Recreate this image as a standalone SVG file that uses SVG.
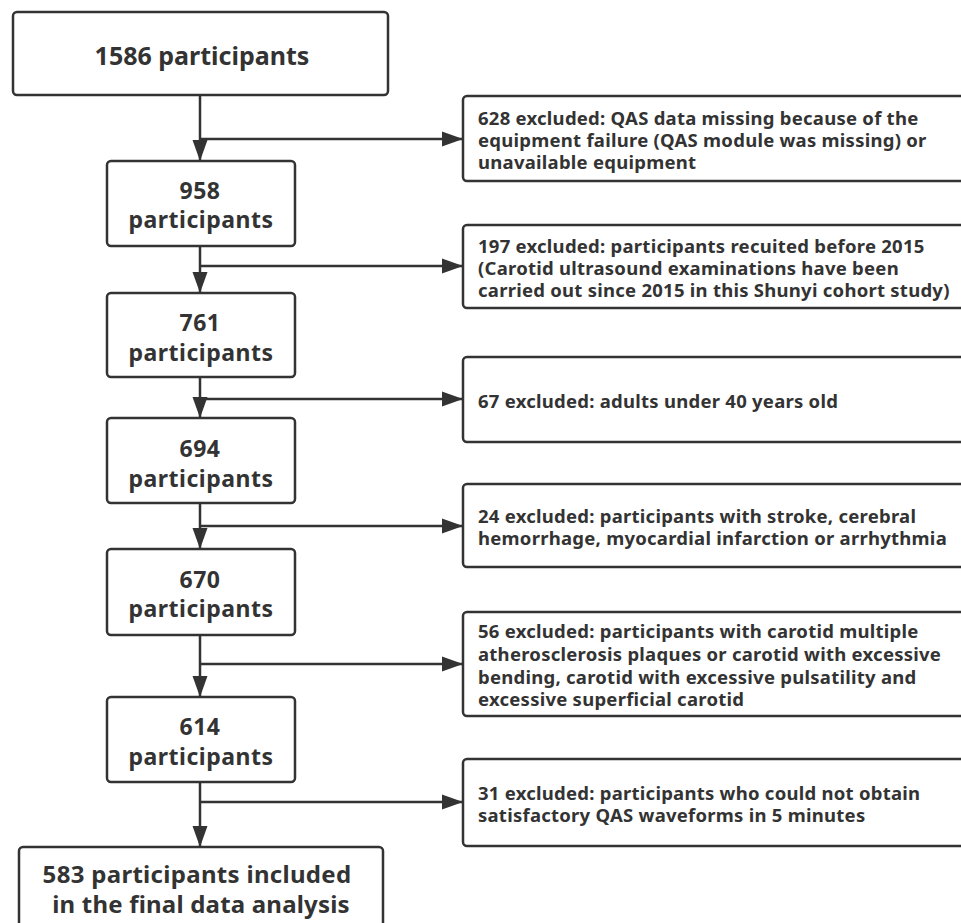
<svg xmlns="http://www.w3.org/2000/svg" width="961" height="923" viewBox="0 0 961 923">
<defs>
<style>
.box{fill:#fff;stroke:#333;stroke-width:2.5}
.main{font-family:"Noto Sans","Open Sans","DejaVu Sans",sans-serif;font-weight:700;fill:#333;text-anchor:middle}
.mid{font-size:23px;letter-spacing:0.5px}
.ex{font-family:"Noto Sans","Open Sans","DejaVu Sans",sans-serif;font-weight:700;fill:#333;font-size:18.5px;letter-spacing:0.25px}
.c{fill:none;stroke:#333;stroke-width:2.5}
</style>
<marker id="ah" markerUnits="userSpaceOnUse" markerWidth="22" markerHeight="16" refX="21" refY="8" orient="auto">
<path d="M0,0.5 L21,8 L0,15.5 Z" fill="#333"/>
</marker>
</defs>
<rect width="961" height="923" fill="#fff"/>
<g id="connectors">
<line class="c" x1="200" y1="95" x2="200" y2="161" marker-end="url(#ah)"/>
<line class="c" x1="200" y1="139" x2="463" y2="139" marker-end="url(#ah)"/>
<line class="c" x1="200" y1="246" x2="200" y2="293" marker-end="url(#ah)"/>
<line class="c" x1="200" y1="266" x2="463" y2="266" marker-end="url(#ah)"/>
<line class="c" x1="200" y1="377" x2="200" y2="418" marker-end="url(#ah)"/>
<line class="c" x1="200" y1="399" x2="463" y2="399" marker-end="url(#ah)"/>
<line class="c" x1="200" y1="503" x2="200" y2="549" marker-end="url(#ah)"/>
<line class="c" x1="200" y1="526" x2="463" y2="526" marker-end="url(#ah)"/>
<line class="c" x1="200" y1="635" x2="200" y2="697" marker-end="url(#ah)"/>
<line class="c" x1="200" y1="664" x2="463" y2="664" marker-end="url(#ah)"/>
<line class="c" x1="200" y1="782" x2="200" y2="847" marker-end="url(#ah)"/>
<line class="c" x1="200" y1="802" x2="463" y2="802" marker-end="url(#ah)"/>
</g>
<g id="n1586">
<rect class="box" x="13" y="12" width="375" height="83" rx="4"/>
<text class="main" x="202" y="65" font-size="25">1586 participants</text>
</g>
<g id="n958">
<rect class="box" x="107" y="161" width="188" height="85" rx="4"/>
<text class="main mid" x="200" y="199">958</text>
<text class="main mid" x="201" y="228">participants</text>
</g>
<g id="n761">
<rect class="box" x="107" y="293" width="188" height="84" rx="4"/>
<text class="main mid" x="200" y="331">761</text>
<text class="main mid" x="201" y="361">participants</text>
</g>
<g id="n694">
<rect class="box" x="107" y="418" width="188" height="85" rx="4"/>
<text class="main mid" x="200" y="457">694</text>
<text class="main mid" x="201" y="487">participants</text>
</g>
<g id="n670">
<rect class="box" x="107" y="549" width="188" height="86" rx="4"/>
<text class="main mid" x="200" y="588">670</text>
<text class="main mid" x="201" y="617">participants</text>
</g>
<g id="n614">
<rect class="box" x="107" y="697" width="188" height="85" rx="4"/>
<text class="main mid" x="200" y="735">614</text>
<text class="main mid" x="201" y="765">participants</text>
</g>
<g id="n583">
<rect class="box" x="19" y="847" width="364" height="100" rx="4"/>
<text class="main" x="197" y="883" font-size="24" letter-spacing="0.3">583 participants included</text>
<text class="main" x="201" y="913" font-size="24" letter-spacing="0.2">in the final data analysis</text>
</g>
<g id="e628">
<rect class="box" x="463" y="96" width="520" height="85" rx="4"/>
<text class="ex" x="478" y="125">628 excluded: QAS data missing because of the</text>
<text class="ex" x="478" y="147">equipment failure (QAS module was missing) or</text>
<text class="ex" x="478" y="169">unavailable equipment</text>
</g>
<g id="e197">
<rect class="box" x="463" y="225" width="520" height="83" rx="4"/>
<text class="ex" x="478" y="253">197 excluded: participants recuited before 2015</text>
<text class="ex" x="478" y="275">(Carotid ultrasound examinations have been</text>
<text class="ex" x="478" y="297">carried out since 2015 in this Shunyi cohort study)</text>
</g>
<g id="e67">
<rect class="box" x="463" y="357" width="520" height="85" rx="4"/>
<text class="ex" x="478" y="408">67 excluded: adults under 40 years old</text>
</g>
<g id="e24">
<rect class="box" x="463" y="484" width="520" height="83" rx="4"/>
<text class="ex" x="478" y="523">24 excluded: participants with stroke, cerebral</text>
<text class="ex" x="478" y="545">hemorrhage, myocardial infarction or arrhythmia</text>
</g>
<g id="e56">
<rect class="box" x="463" y="612" width="520" height="104" rx="4"/>
<text class="ex" x="478" y="638">56 excluded: participants with carotid multiple</text>
<text class="ex" x="478" y="661">atherosclerosis plaques or carotid with excessive</text>
<text class="ex" x="478" y="684">bending, carotid with excessive pulsatility and</text>
<text class="ex" x="478" y="706">excessive superficial carotid</text>
</g>
<g id="e31">
<rect class="box" x="463" y="759" width="520" height="87" rx="4"/>
<text class="ex" x="478" y="800">31 excluded: participants who could not obtain</text>
<text class="ex" x="478" y="822">satisfactory QAS waveforms in 5 minutes</text>
</g>
</svg>
